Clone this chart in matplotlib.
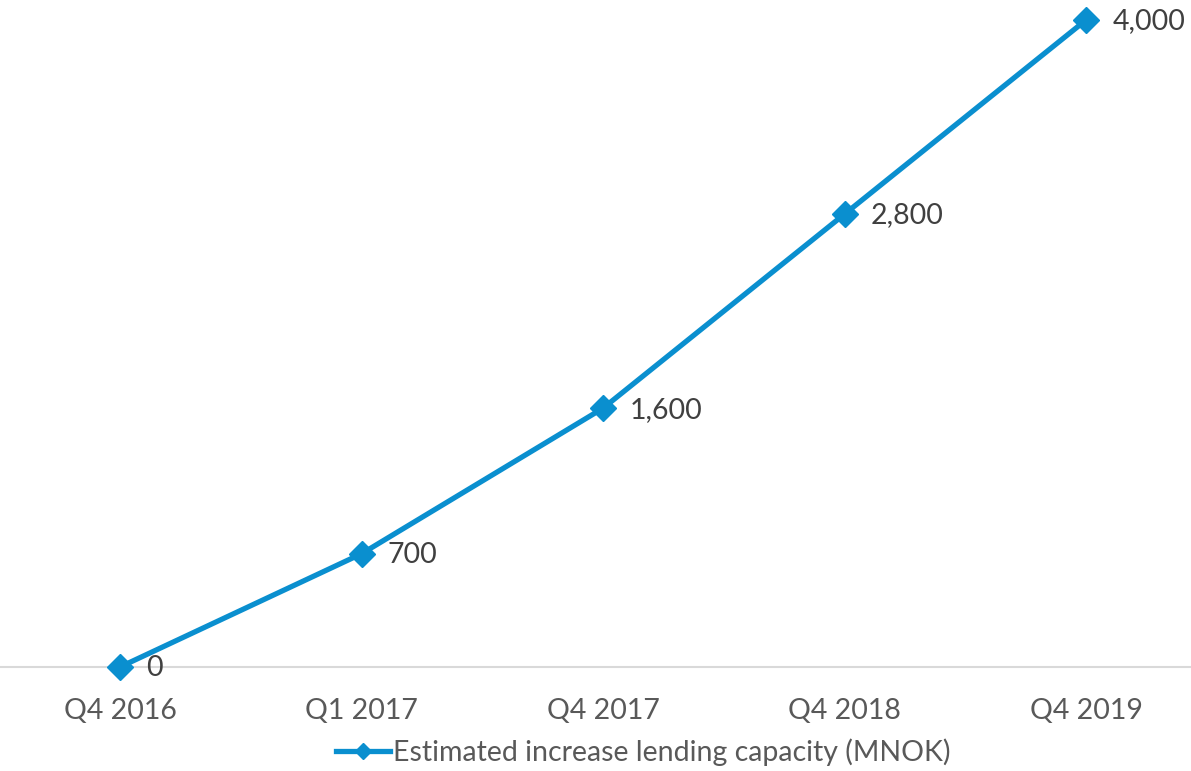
import matplotlib.pyplot as plt

quarters = ["Q4 2016", "Q1 2017", "Q4 2017", "Q4 2018", "Q4 2019"]
capacity = [0, 700, 1600, 2800, 4000]
series_name = "Estimated increase lending capacity (MNOK)"

blue = "#0a8fcf"
plt.rcParams['font.family'] = ['Lato', 'DejaVu Sans']

fig = plt.figure(figsize=(11.91, 7.71), dpi=100)
ax = fig.add_axes([0, 0.1349, 1, 0.974 - 0.1349])

x = list(range(len(quarters)))
line, = ax.plot(x, capacity, color=blue, lw=3.8, marker="D", markersize=13,
                clip_on=False, zorder=3, label=series_name)

for xi, v in zip(x, capacity):
    ax.annotate(f"{v:,}", (xi, v), xytext=(19, -1), textcoords="offset points",
                va="center", ha="left", fontsize=20.5, color="#404040")

ax.set_xlim(-120 / 241.5, 4 + 105 / 241.5)
ax.set_ylim(0, 4000)
ax.set_yticks([])
ax.set_xticks(x)
ax.set_xticklabels(quarters, fontsize=20.5, color="#595959")
ax.tick_params(axis="x", length=0, pad=22)

for side in ("top", "right", "left"):
    ax.spines[side].set_visible(False)
ax.spines["bottom"].set_color("#d9d9d9")
ax.spines["bottom"].set_linewidth(1.5)

fig.legend(handles=[line], loc="center", bbox_to_anchor=(0.54, 0.024),
           frameon=False, fontsize=20.5, labelcolor="#595959",
           handlelength=1.9, handletextpad=0.1, borderaxespad=0,
           markerscale=0.65)

fig.savefig("out.png", dpi=100)
